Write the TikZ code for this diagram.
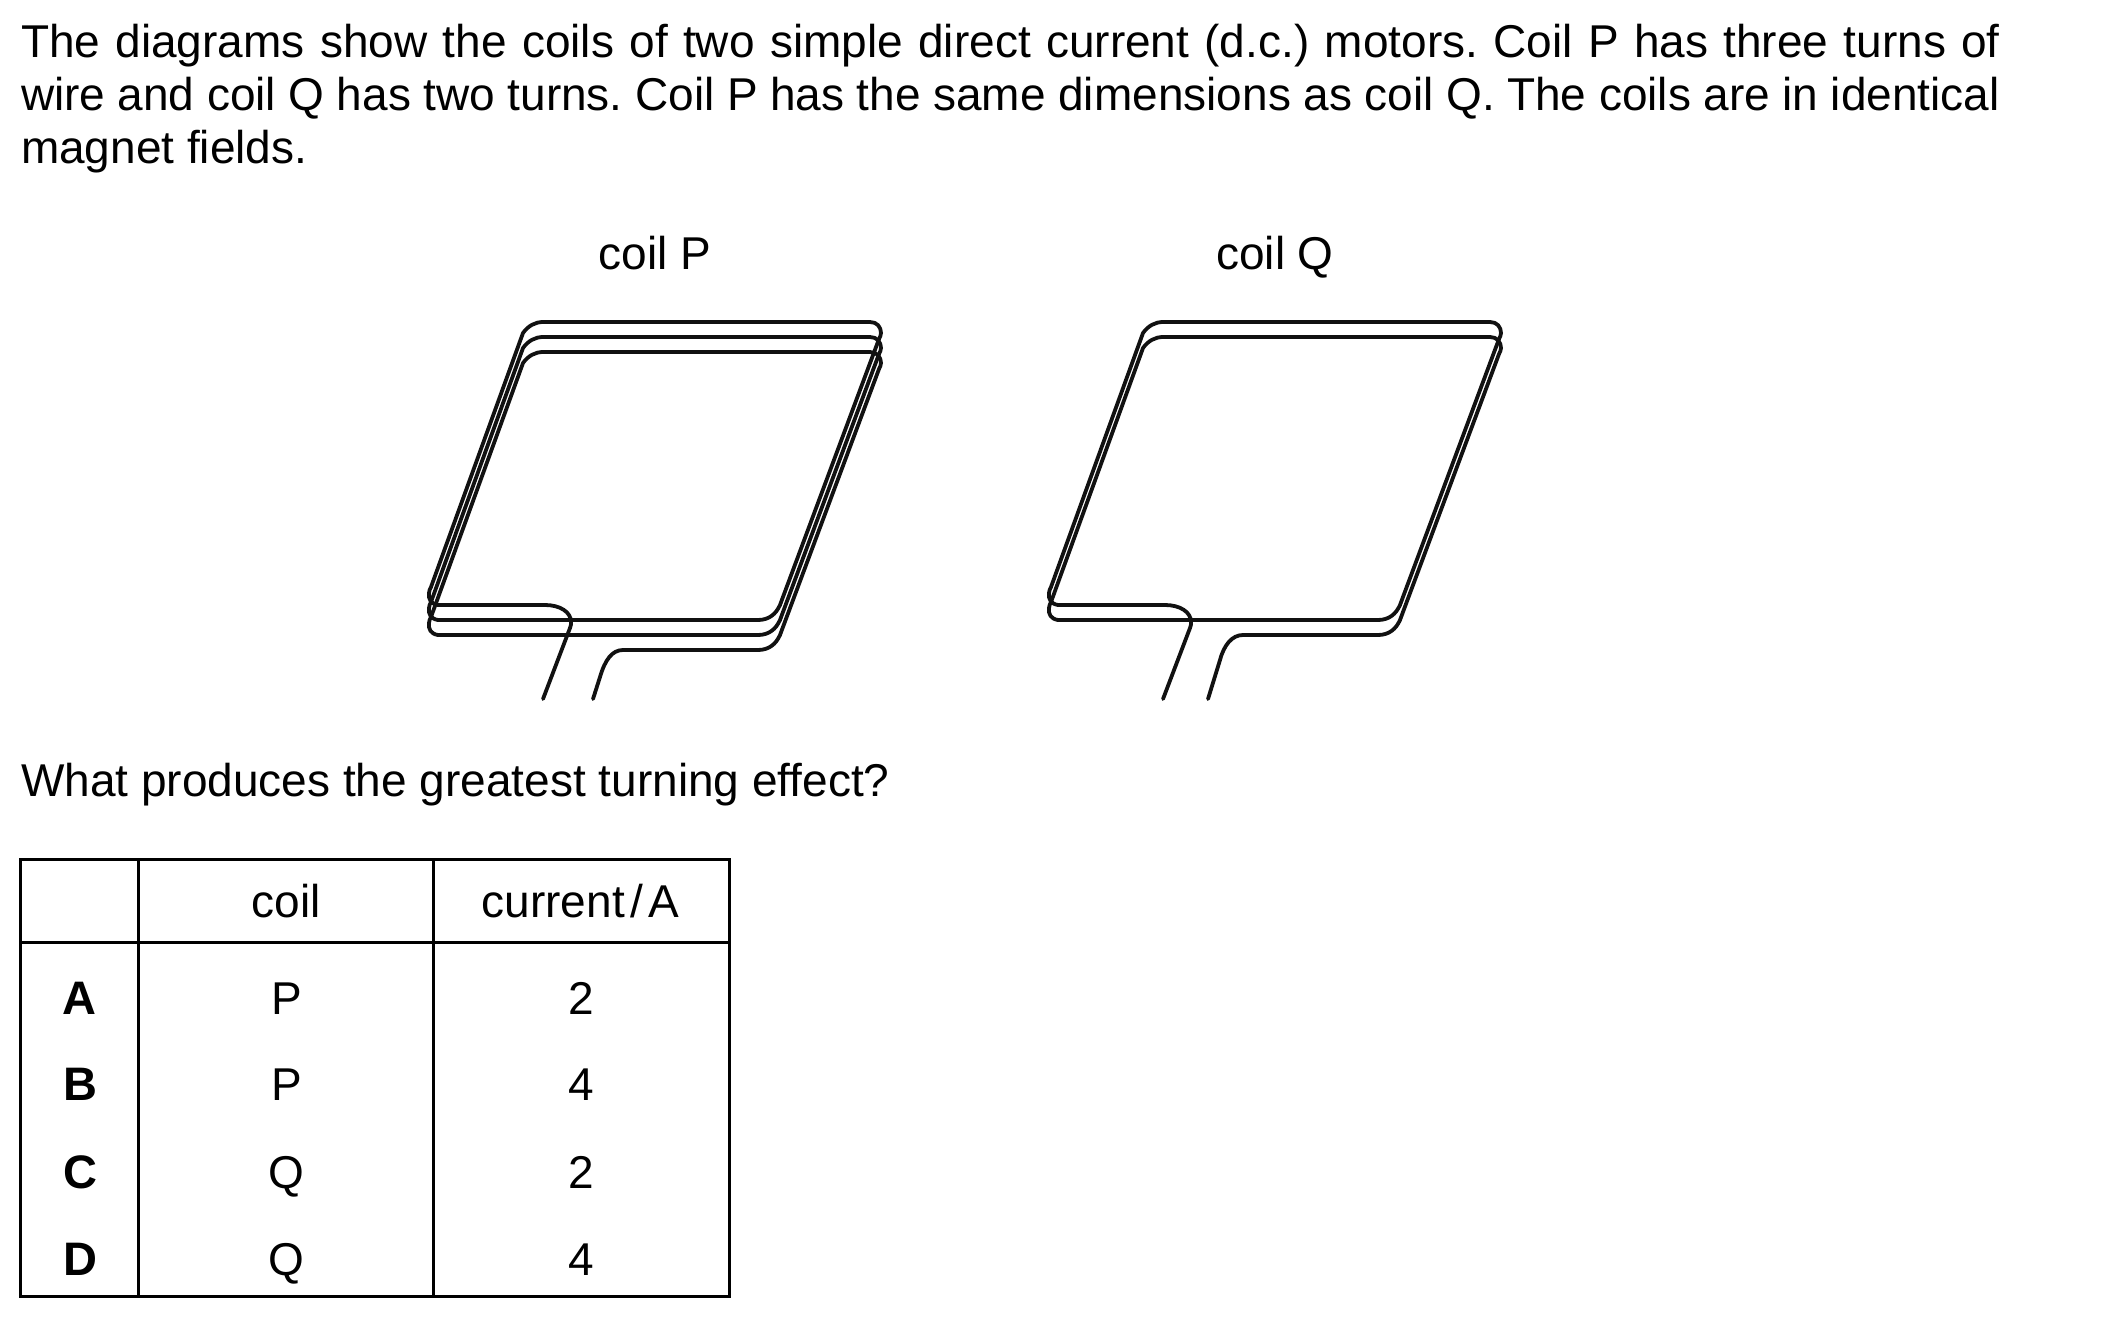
\documentclass[tikz,border=0pt]{standalone}
\usepackage{fontspec}
\setmainfont{Liberation Sans}
\frenchspacing
\definecolor{ink}{HTML}{111111}
\tikzset{
  wire/.style={draw=ink,line width=3.8pt,line cap=round,line join=round},
  rule/.style={draw=black,line width=3pt,line cap=rect},
  txt/.style={anchor=base west,inner sep=0pt,outer sep=0pt,text=black,font=\fontsize{46}{46}\selectfont},
  cell/.style={anchor=base,inner sep=0pt,outer sep=0pt,text=black,font=\fontsize{46}{46}\selectfont},
  bcell/.style={cell,font=\fontsize{47}{47}\selectfont\bfseries}
}
% one turn at horizontal offset #1, vertical offset #2: left edge, top, right edge, bottom
\newcommand{\coilturn}[2]{%
  \draw[wire,shift={(#1,#2)}] (438,605) .. controls (431,604) and (428,599) .. (429,593)
    .. controls (429,591) and (430,589) .. (431,587)
    -- (523,333) .. controls (528,326) and (535,322) .. (543,322)
    -- (870,322) .. controls (877,322) and (881,327) .. (881,333)
    .. controls (881,335) and (880,337) .. (879,339)
    -- (780,605) .. controls (776,614) and (769,620) .. (758,620);}
\begin{document}
\begin{tikzpicture}[x=1pt,y=-1pt]
\useasboundingbox (0,0) rectangle (2101,1329);
\node[txt] (l1) at (21,58) {\makebox[1979pt][s]{The diagrams show the coils of two simple direct current (d.c.) motors. Coil P has three turns of}};
\node[txt] (l2) at (21,111) {\makebox[1979pt][s]{wire and coil Q has two turns. Coil P has the same dimensions as coil Q. The coils are in identical}};
\node[txt] (l3) at (21,164) {magnet fields.};
\node[cell] (cp) at (655,270) {coil P};
\node[cell] (cq) at (1275,270) {coil Q};
\node[txt] (q) at (21,796) {What produces the greatest turning effect?};
% coil P
\coilturn{0}{0}\coilturn{0}{15}\coilturn{0}{30}
\draw[wire] (438,605) -- (545,605) .. controls (560,605) and (571,612) .. (571,622) .. controls (571,624) and (571,626) .. (570,628) -- (543,699);
\draw[wire] (438,620) -- (758,620);
\draw[wire] (438,635) -- (758,635);
\draw[wire] (758,650) -- (623,650) .. controls (612,650) and (605,660) .. (600,677) -- (593,699);
% coil Q
\coilturn{620}{0}\coilturn{620}{15}
\draw[wire] (1058,605) -- (1165,605) .. controls (1180,605) and (1191,612) .. (1191,622) .. controls (1191,624) and (1191,626) .. (1190,628) -- (1163,699);
\draw[wire] (1058,620) -- (1378,620);
\draw[wire] (1378,635) -- (1243,635) .. controls (1232,635) and (1224,645) .. (1220,660) -- (1208,699);
% table
\draw[rule] (20,859) rectangle (729,1296);
\draw[rule] (20,942) -- (729,942);
\draw[rule] (138.5,859) -- (138.5,1296);
\draw[rule] (433.5,859) -- (433.5,1296);
\node[cell] (h1) at (286,917) {coil};
\node[cell] (h2) at (580.5,917) {current\hspace{6pt}/\hspace{5pt}A};
\node[bcell] (ra) at (79,1014) {A};
\node[cell] (ra1) at (287,1014) {P};
\node[cell] (ra2) at (581,1014) {2};
\node[bcell] (rb) at (80,1100) {B};
\node[cell] (rb1) at (287,1100) {P};
\node[cell] (rb2) at (581,1100) {4};
\node[bcell] (rc) at (80,1188) {C};
\node[cell] (rc1) at (286,1188) {Q};
\node[cell] (rc2) at (581,1188) {2};
\node[bcell] (rd) at (80,1275) {D};
\node[cell] (rd1) at (286,1275) {Q};
\node[cell] (rd2) at (581,1275) {4};
\end{tikzpicture}
\end{document}
